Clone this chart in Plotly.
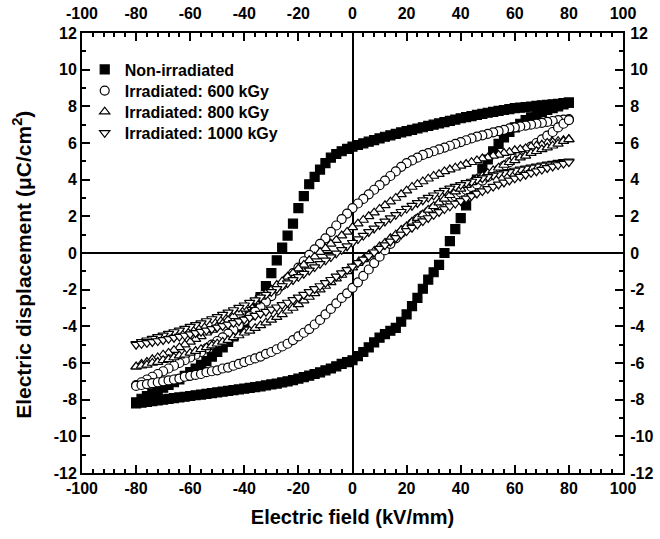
import plotly.graph_objects as go

# Applied field sweeps (kV/mm)
E_down = [80, 78, 76, 74, 72, 70, 68, 66, 64, 62,
          60, 58, 56, 54, 52, 50, 48, 46, 44, 42,
          40, 38, 36, 34, 32, 30, 28, 26, 24, 22,
          20, 18, 16, 14, 12, 10, 8, 6, 4, 2,
          0, -2, -4, -6, -8, -10, -12, -14, -16, -18,
          -20, -22, -24, -26, -28, -30, -32, -34, -36, -38,
          -40, -42, -44, -46, -48, -50, -52, -54, -56, -58,
          -60, -62, -64, -66, -68, -70, -72, -74, -76, -78,
          -80]
E_up = [-80, -78, -76, -74, -72, -70, -68, -66, -64, -62,
        -60, -58, -56, -54, -52, -50, -48, -46, -44, -42,
        -40, -38, -36, -34, -32, -30, -28, -26, -24, -22,
        -20, -18, -16, -14, -12, -10, -8, -6, -4, -2,
        0, 2, 4, 6, 8, 10, 12, 14, 16, 18,
        20, 22, 24, 26, 28, 30, 32, 34, 36, 38,
        40, 42, 44, 46, 48, 50, 52, 54, 56, 58,
        60, 62, 64, 66, 68, 70, 72, 74, 76, 78,
        80]

# Non-irradiated (filled squares)
ni_down = [8.20, 8.17, 8.14, 8.11, 8.08, 8.05, 8.02, 7.99, 7.96, 7.93,
           7.90, 7.85, 7.80, 7.75, 7.70, 7.65, 7.59, 7.53, 7.47, 7.41,
           7.35, 7.28, 7.21, 7.14, 7.07, 7.00, 6.93, 6.86, 6.79, 6.72,
           6.65, 6.58, 6.50, 6.42, 6.34, 6.25, 6.16, 6.07, 5.98, 5.89,
           5.80, 5.68, 5.55, 5.40, 5.20, 4.90, 4.55, 4.15, 3.75, 3.10,
           2.45, 1.60, 0.95, 0.30, -0.40, -1.10, -1.80, -2.40, -2.90, -3.35,
           -3.80, -4.20, -4.55, -4.85, -5.15, -5.40, -5.65, -5.90, -6.10, -6.30,
           -6.50, -6.70, -6.90, -7.05, -7.20, -7.35, -7.50, -7.65, -7.80, -7.95,
           -8.15]
ni_up = [-8.20, -8.16, -8.12, -8.08, -8.04, -8.00, -7.96, -7.92, -7.88, -7.84,
         -7.80, -7.76, -7.72, -7.68, -7.64, -7.60, -7.56, -7.52, -7.48, -7.44,
         -7.40, -7.36, -7.32, -7.27, -7.22, -7.17, -7.12, -7.06, -7.00, -6.93,
         -6.85, -6.77, -6.69, -6.60, -6.51, -6.40, -6.30, -6.18, -6.05, -5.95,
         -5.85, -5.62, -5.40, -5.15, -4.88, -4.62, -4.42, -4.24, -4.08, -3.75,
         -3.35, -2.90, -2.45, -1.95, -1.45, -1.05, -0.65, 0.00, 0.65, 1.30,
         1.90, 2.60, 3.30, 4.00, 4.60, 5.10, 5.55, 5.95, 6.30, 6.60,
         6.85, 7.05, 7.25, 7.40, 7.55, 7.68, 7.80, 7.90, 8.00, 8.10,
         8.20]

# Irradiated 600 kGy (open circles)
k600_down = [7.30, 7.28, 7.25, 7.20, 7.15, 7.10, 7.05, 7.00, 6.95, 6.90,
             6.85, 6.80, 6.72, 6.65, 6.58, 6.50, 6.42, 6.35, 6.25, 6.15,
             6.05, 5.95, 5.85, 5.75, 5.65, 5.55, 5.45, 5.35, 5.20, 5.05,
             4.90, 4.70, 4.45, 4.20, 3.95, 3.70, 3.45, 3.20, 2.95, 2.70,
             2.45, 2.15, 1.85, 1.50, 1.15, 0.80, 0.50, 0.20, -0.10, -0.45,
             -0.80, -1.10, -1.40, -1.75, -2.05, -2.35, -2.65, -2.95, -3.20, -3.45,
             -3.70, -3.95, -4.20, -4.40, -4.60, -4.80, -5.00, -5.20, -5.40, -5.55,
             -5.70, -5.85, -6.00, -6.15, -6.30, -6.45, -6.60, -6.75, -6.90, -7.05,
             -7.20]
k600_up = [-7.25, -7.20, -7.15, -7.10, -7.05, -7.00, -6.95, -6.90, -6.85, -6.75,
           -6.70, -6.65, -6.60, -6.50, -6.45, -6.40, -6.30, -6.25, -6.15, -6.05,
           -5.95, -5.85, -5.75, -5.65, -5.50, -5.40, -5.25, -5.10, -4.95, -4.75,
           -4.55, -4.35, -4.15, -3.90, -3.65, -3.35, -3.05, -2.75, -2.45, -2.20,
           -1.90, -1.60, -1.25, -0.90, -0.55, -0.20, 0.15, 0.50, 0.80, 1.10,
           1.35, 1.60, 1.85, 2.05, 2.25, 2.45, 2.60, 2.75, 2.90, 3.10,
           3.30, 3.45, 3.60, 3.75, 3.95, 4.15, 4.35, 4.55, 4.75, 4.95,
           5.20, 5.40, 5.60, 5.80, 6.00, 6.20, 6.40, 6.60, 6.85, 7.05,
           7.25]

# Irradiated 800 kGy (open up-triangles)
k800_down = [6.20, 6.15, 6.10, 6.05, 6.00, 5.90, 5.85, 5.80, 5.70, 5.65,
             5.60, 5.50, 5.45, 5.35, 5.30, 5.20, 5.15, 5.05, 4.95, 4.85,
             4.75, 4.65, 4.55, 4.45, 4.30, 4.20, 4.05, 3.90, 3.75, 3.60,
             3.40, 3.20, 3.00, 2.80, 2.60, 2.40, 2.20, 2.00, 1.80, 1.60,
             1.40, 1.15, 0.95, 0.70, 0.50, 0.25, 0.05, -0.20, -0.40, -0.65,
             -0.85, -1.10, -1.30, -1.55, -1.75, -2.00, -2.20, -2.40, -2.65, -2.85,
             -3.05, -3.25, -3.45, -3.65, -3.85, -4.00, -4.20, -4.35, -4.55, -4.70,
             -4.85, -5.00, -5.15, -5.30, -5.45, -5.55, -5.70, -5.80, -5.95, -6.05,
             -6.20]
k800_up = [-6.20, -6.15, -6.10, -6.00, -5.95, -5.85, -5.80, -5.70, -5.60, -5.55,
           -5.45, -5.35, -5.25, -5.15, -5.05, -4.95, -4.85, -4.75, -4.60, -4.50,
           -4.35, -4.25, -4.10, -3.95, -3.80, -3.65, -3.50, -3.35, -3.15, -3.00,
           -2.80, -2.60, -2.40, -2.20, -2.00, -1.80, -1.60, -1.40, -1.20, -1.00,
           -0.80, -0.55, -0.35, -0.10, 0.10, 0.35, 0.55, 0.80, 1.00, 1.25,
           1.45, 1.70, 1.90, 2.10, 2.35, 2.55, 2.75, 2.95, 3.15, 3.35,
           3.50, 3.70, 3.85, 4.05, 4.20, 4.35, 4.50, 4.65, 4.80, 4.95,
           5.05, 5.20, 5.30, 5.45, 5.55, 5.65, 5.75, 5.85, 5.95, 6.10,
           6.20]

# Irradiated 1000 kGy (open down-triangles)
k1000_down = [5.00, 4.97, 4.93, 4.88, 4.83, 4.78, 4.73, 4.67, 4.62, 4.56,
              4.50, 4.43, 4.37, 4.30, 4.23, 4.15, 4.08, 4.00, 3.90, 3.82,
              3.72, 3.62, 3.52, 3.40, 3.28, 3.15, 3.02, 2.88, 2.73, 2.58,
              2.42, 2.25, 2.08, 1.90, 1.72, 1.53, 1.34, 1.15, 0.95, 0.76,
              0.56, 0.37, 0.17, -0.02, -0.22, -0.40, -0.59, -0.77, -0.95, -1.13,
              -1.30, -1.47, -1.64, -1.80, -1.96, -2.12, -2.27, -2.42, -2.57, -2.71,
              -2.85, -2.98, -3.11, -3.24, -3.36, -3.48, -3.60, -3.71, -3.82, -3.92,
              -4.02, -4.12, -4.22, -4.31, -4.40, -4.49, -4.58, -4.67, -4.76, -4.85,
              -4.95]
k1000_up = [-5.00, -4.95, -4.90, -4.85, -4.80, -4.74, -4.68, -4.62, -4.56, -4.50,
            -4.43, -4.36, -4.29, -4.22, -4.14, -4.06, -3.98, -3.90, -3.81, -3.72,
            -3.62, -3.52, -3.42, -3.31, -3.20, -3.08, -2.96, -2.83, -2.70, -2.56,
            -2.42, -2.27, -2.12, -1.96, -1.80, -1.63, -1.46, -1.28, -1.10, -0.92,
            -0.73, -0.54, -0.35, -0.16, 0.04, 0.24, 0.43, 0.63, 0.82, 1.01,
            1.20, 1.38, 1.56, 1.74, 1.91, 2.08, 2.24, 2.40, 2.55, 2.70,
            2.84, 2.98, 3.12, 3.25, 3.38, 3.50, 3.62, 3.74, 3.85, 3.96,
            4.07, 4.17, 4.27, 4.37, 4.46, 4.55, 4.64, 4.72, 4.80, 4.88,
            4.96]

series_names = ["Non-irradiated", "Irradiated: 600 kGy",
                "Irradiated: 800 kGy", "Irradiated: 1000 kGy"]

x_tick_vals = [-100, -80, -60, -40, -20, 0, 20, 40, 60, 80, 100]
x_tick_text = ["-100", "-80", "-60", "-40", "-20", "0", "20", "40", "60", "80", "100"]
y_tick_vals = [-12, -10, -8, -6, -4, -2, 0, 2, 4, 6, 8, 10, 12]
y_tick_text = ["-12", "-10", "-8", "-6", "-4", "-2", "0", "2", "4", "6", "8", "10", "12"]

FONT = "Liberation Sans, Arial, sans-serif"

branches = [(ni_down, ni_up), (k600_down, k600_up), (k800_down, k800_up), (k1000_down, k1000_up)]
symbols = ["square", "circle", "triangle-up", "triangle-down"]
fills = ["black", "white", "white", "white"]
legend_ids = ["legend", "legend2", "legend3", "legend4"]
legend_rows_y = [0.917, 0.869, 0.821, 0.773]   # paper-y of each legend row

fig = go.Figure()
for name, (down, up), sym, fill, lid in zip(series_names, branches, symbols, fills, legend_ids):
    assert len(down) == len(E_down) and len(up) == len(E_up), name
    fig.add_trace(go.Scatter(
        x=E_down + E_up, y=down + up, mode="markers", name=name, legend=lid,
        marker=dict(symbol=sym, size=9, color=fill,
                    line=dict(color="black", width=1.2)),
    ))

# helper trace so that the mirrored top/right label axes are drawn
fig.add_trace(go.Scatter(x=[], y=[], xaxis="x2", yaxis="y2",
                         showlegend=False, hoverinfo="skip"))

bold = lambda labels: ["<b>%s</b>" % t for t in labels]
tickfont = dict(family=FONT, size=16, color="black", weight="bold")

axis_common = dict(showline=True, linecolor="black", linewidth=2,
                   ticks="inside", ticklen=8, tickwidth=2, tickcolor="black",
                   showgrid=False, zeroline=True, zerolinecolor="black",
                   zerolinewidth=2, mirror="ticks", tickfont=tickfont,
                   tickmode="array", automargin=False)
minor_common = dict(tickmode="linear", tick0=0, ticks="inside",
                    ticklen=4, tickwidth=1.5, tickcolor="black")
# invisible outside ticks only push the mirrored labels away from the frame
label_axis_common = dict(tickmode="array", ticks="outside", tickcolor="rgba(0,0,0,0)",
                         showline=False, showgrid=False, zeroline=False,
                         tickfont=tickfont, automargin=False)

legend_common = dict(x=0.005, xanchor="left", yanchor="middle",
                     bgcolor="rgba(0,0,0,0)",
                     font=dict(family=FONT, size=16, color="black", weight="bold"))

fig.update_layout(
    width=660, height=539,
    margin=dict(l=82, r=37, t=33, b=66, autoexpand=False),
    paper_bgcolor="white", plot_bgcolor="white",
    font=dict(family=FONT, color="black", size=14),
    xaxis=dict(range=[-100, 100], tickvals=x_tick_vals, ticktext=bold(x_tick_text),
               minor=dict(dtick=4, **minor_common),
               title=dict(text="<b>Electric field (kV/mm)</b>", standoff=14,
                          font=dict(family=FONT, size=20, color="black")),
               **axis_common),
    yaxis=dict(range=[-12, 12], tickvals=y_tick_vals, ticktext=bold(y_tick_text),
               minor=dict(dtick=1, **minor_common),
               **axis_common),
    xaxis2=dict(overlaying="x", side="top", anchor="y", range=[-100, 100],
                tickvals=x_tick_vals, ticktext=bold(x_tick_text), ticklen=7,
                **label_axis_common),
    yaxis2=dict(overlaying="y", side="right", anchor="x", range=[-12, 12],
                tickvals=y_tick_vals, ticktext=bold(y_tick_text), ticklen=3,
                **label_axis_common),
    legend=dict(y=legend_rows_y[0], **legend_common),
    legend2=dict(y=legend_rows_y[1], **legend_common),
    legend3=dict(y=legend_rows_y[2], **legend_common),
    legend4=dict(y=legend_rows_y[3], **legend_common),
    annotations=[dict(text="<b>Electric displacement (μC/cm<sup>2</sup>)</b>",
                      textangle=-90, xref="paper", yref="paper",
                      x=-0.111, y=0.473, xanchor="center", yanchor="middle",
                      showarrow=False,
                      font=dict(family=FONT, size=21, color="black"))],
    showlegend=True,
)

fig.write_html("out.html")
